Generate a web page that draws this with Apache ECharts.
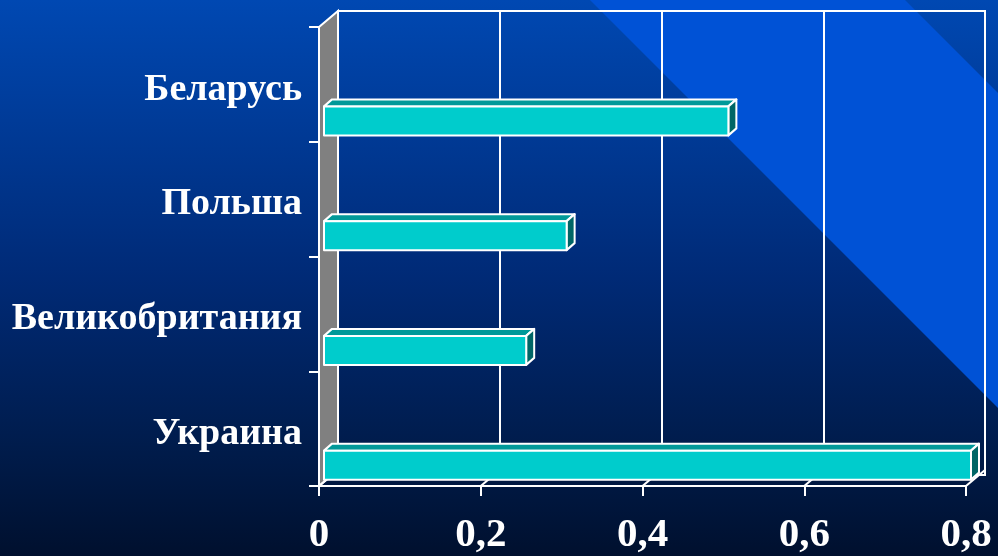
<!DOCTYPE html>
<html><head><meta charset="utf-8">
<script src="https://cdn.jsdelivr.net/npm/echarts@6/dist/echarts.min.js"></script>
<style>html,body{margin:0;padding:0;background:#001030}#c{width:998px;height:556px}</style>
</head><body><div id="c"></div>
<script>
const categories = ['Беларусь', 'Польша', 'Великобритания', 'Украина'];
const values = [0.5, 0.3, 0.25, 0.8];
const xTicks = [0, 0.2, 0.4, 0.6, 0.8];
const xTickLabels = ['0', '0,2', '0,4', '0,6', '0,8'];

const DX = 19, DY = -16;           // depth of the chart box
const B = {x: 5, top: 22, h: 29, dx: 8, dy: -7}; // bar placement in its band
const FONT = 'Liberation Serif';
const LW = 2;

const chart = echarts.init(document.getElementById('c'));

function wallItem(params, api) {
  const cs = params.coordSys;
  const x0 = cs.x, top = cs.y, bot = cs.y + cs.height;
  const children = [{
    type: 'polygon',
    shape: {points: [[x0, top], [x0 + DX, top + DY], [x0 + DX, bot + DY], [x0, bot]]},
    style: {fill: '#808080', stroke: '#ffffff', lineWidth: LW}
  }];
  xTicks.forEach(t => {
    const x = api.coord([t, 0])[0];
    children.push({type: 'line', shape: {x1: x, y1: bot, x2: x + DX, y2: bot + DY},
      style: {stroke: '#ffffff', lineWidth: LW}});
  });
  return {type: 'group', children};
}

function barItem(params, api) {
  const v = api.value(0), ci = api.value(1);
  const p0 = api.coord([0, ci]), p1 = api.coord([v, ci]);
  const fl = p0[0] + B.x, fr = p1[0] + B.x;
  const ft = p0[1] + B.top, fb = ft + B.h;
  const st = {stroke: '#ffffff', lineWidth: LW, lineJoin: 'round'};
  return {type: 'group', children: [
    {type: 'polygon', shape: {points: [[fl, ft], [fr, ft], [fr + B.dx, ft + B.dy], [fl + B.dx, ft + B.dy]]},
      style: Object.assign({fill: '#009999'}, st)},
    {type: 'polygon', shape: {points: [[fr, ft], [fr + B.dx, ft + B.dy], [fr + B.dx, fb + B.dy], [fr, fb]]},
      style: Object.assign({fill: '#006666'}, st)},
    {type: 'rect', shape: {x: fl, y: ft, width: fr - fl, height: B.h},
      style: Object.assign({fill: '#00CCCC'}, st)}
  ]};
}

chart.setOption({
  animation: false,
  backgroundColor: new echarts.graphic.LinearGradient(0, 0, 0, 1, [
    {offset: 0, color: '#0048B2'},
    {offset: 0.5, color: '#002A76'},
    {offset: 0.8, color: '#001C4C'},
    {offset: 1, color: '#00102E'}
  ]),
  graphic: [{
    type: 'polygon', z: -10, silent: true,
    shape: {points: [[590, 0], [905, 0], [998, 93], [998, 408]]},
    style: {fill: '#0052D6'}
  }],
  grid: [
    {left: 319, right: 32, top: 27, bottom: 66, show: false},
    {left: 338, right: 13, top: 11, bottom: 81, show: true, borderColor: '#ffffff', borderWidth: LW, backgroundColor: 'transparent'}
  ],
  xAxis: [
    {gridIndex: 0, type: 'value', min: 0, max: 0.8, interval: 0.2,
      axisLine: {show: true, lineStyle: {color: '#ffffff', width: LW}},
      axisTick: {show: true, length: 10, lineStyle: {color: '#ffffff', width: LW}},
      splitLine: {show: false},
      axisLabel: {color: '#ffffff', fontFamily: FONT, fontWeight: 'bold', fontSize: 41, margin: 29,
        formatter: (v, i) => xTickLabels[i]}},
    {gridIndex: 1, type: 'value', min: 0, max: 0.8, interval: 0.2,
      axisLine: {show: false}, axisTick: {show: false}, axisLabel: {show: false},
      splitLine: {show: true, lineStyle: {color: '#ffffff', width: LW}}}
  ],
  yAxis: [
    {gridIndex: 0, type: 'category', data: categories, inverse: true,
      axisLine: {show: true, lineStyle: {color: '#ffffff', width: LW}},
      axisTick: {show: true, length: 10, lineStyle: {color: '#ffffff', width: LW}},
      axisLabel: {margin: 17, formatter: v => '{a|' + v + '}',
        rich: {a: {color: '#ffffff', fontFamily: FONT, fontWeight: 'bold', fontSize: 38,
          padding: [11, 0, 0, 0]}}}},
    {gridIndex: 1, type: 'value', show: false, min: 0, max: 1}
  ],
  series: [
    {type: 'custom', xAxisIndex: 0, yAxisIndex: 0, z: 3, renderItem: wallItem, data: [[0, 0]], silent: true},
    {type: 'custom', xAxisIndex: 0, yAxisIndex: 0, z: 4, renderItem: barItem,
      encode: {x: 0, y: 1},
      data: values.map((v, i) => [v, i])}
  ]
});
</script></body></html>
